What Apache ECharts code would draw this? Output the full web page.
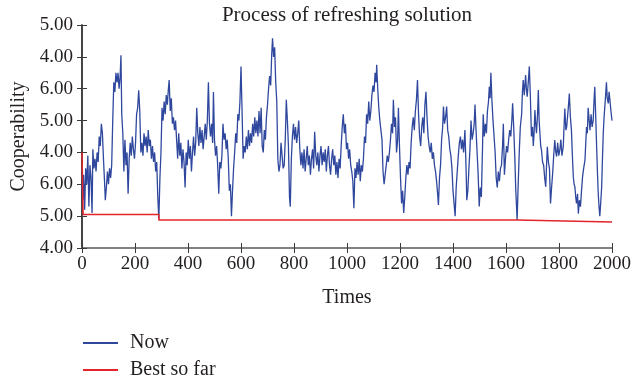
<!DOCTYPE html>
<html>
<head>
<meta charset="utf-8">
<title>Process of refreshing solution</title>
<script src="https://cdn.jsdelivr.net/npm/echarts@6/dist/echarts.min.js"></script>
<style>
  html, body { margin: 0; padding: 0; background: #fff; }
  #main { width: 632px; height: 385px; }
</style>
</head>
<body>
<div id="main"></div>
<script>
// y axis positions 0..7, labelled as printed in the figure
var yTickLabels = ['4.00', '5.00', '6.00', '4.00', '5.00', '6.00', '4.00', '5.00'];

// "Now" trace as [time, level]
var nowPoints = [
  [0,2.0],[3,1.5],[6,2.3],[10,1.2],[14,2.5],[18,2.0],[22,2.9],[26,1.3],[30,2.6],[34,2.2],
  [38,1.1],[41,3.1],[45,2.5],[49,2.8],[53,2.4],[57,3.0],[61,2.7],[65,3.5],[69,3.2],[73,3.9],
  [77,3.6],[81,2.8],[85,2.1],[88,1.5],[92,1.9],[96,2.4],[100,2.0],[104,2.5],[108,2.2],[112,2.6],
  [116,4.0],[120,5.2],[124,4.9],[128,5.5],[132,5.2],[136,5.5],[140,5.0],[144,5.4],[147,6.05],[150,4.2],
  [154,3.6],[158,2.4],[162,3.4],[166,2.6],[170,3.0],[174,1.7],[178,2.8],[182,3.3],[186,2.9],[190,3.5],
  [194,3.1],[198,2.8],[202,3.3],[206,4.2],[210,4.4],[214,4.95],[218,4.3],[222,3.0],[226,3.3],[230,2.9],
  [234,3.6],[238,3.2],[242,3.5],[246,3.0],[250,3.7],[254,3.2],[258,3.4],[262,2.8],[266,3.2],[270,2.7],
  [274,3.0],[278,2.4],[282,2.7],[286,1.6],[290,0.9],[294,2.2],[298,3.0],[302,4.4],[306,4.0],[310,4.6],
  [314,4.2],[318,4.8],[322,4.5],[326,5.0],[329,5.27],[333,4.3],[337,4.7],[341,3.9],[345,4.1],[349,3.7],
  [353,4.0],[357,3.4],[361,2.8],[365,3.6],[369,2.9],[373,3.3],[377,2.5],[381,3.1],[385,2.7],[389,1.9],
  [393,3.0],[397,2.6],[401,3.4],[405,2.8],[409,3.2],[413,2.4],[417,3.0],[421,3.5],[425,2.9],[429,3.3],
  [433,4.4],[437,3.6],[441,3.2],[445,3.8],[449,3.3],[453,3.7],[457,3.1],[461,3.5],[465,3.9],[469,3.4],
  [473,4.0],[477,5.2],[481,3.9],[485,3.5],[489,3.9],[493,3.3],[496,4.9],[500,3.4],[504,2.9],[508,3.2],
  [512,2.6],[516,1.7],[520,2.7],[524,2.5],[528,2.9],[532,3.9],[536,3.4],[540,3.6],[544,3.1],[548,3.4],
  [552,2.8],[556,1.8],[560,2.0],[564,1.0],[568,1.8],[572,2.5],[576,3.0],[580,3.6],[584,3.3],[588,4.2],
  [592,4.0],[596,4.6],[600,5.7],[604,4.3],[608,2.8],[612,3.2],[616,3.0],[620,3.5],[624,3.1],[628,3.7],
  [632,3.2],[636,3.6],[640,3.3],[644,3.9],[648,3.5],[652,4.1],[656,3.6],[660,4.0],[664,3.5],[668,4.3],
  [672,3.6],[676,4.4],[680,3.2],[684,3.0],[688,3.7],[692,3.4],[696,4.1],[700,4.5],[704,5.0],[708,5.4],
  [712,5.1],[716,6.1],[719,6.58],[723,6.0],[727,6.3],[731,5.2],[735,4.6],[739,2.8],[743,2.4],[747,2.6],
  [751,3.3],[755,2.9],[759,2.5],[763,2.6],[767,3.4],[771,4.65],[775,4.0],[779,3.2],[783,1.6],[786,1.3],
  [790,2.8],[794,3.5],[798,3.9],[802,3.4],[806,3.8],[810,3.3],[814,3.6],[818,4.0],[822,3.1],[826,2.6],
  [830,3.0],[834,2.5],[838,3.1],[842,2.4],[846,2.8],[850,3.2],[854,2.6],[858,2.9],[862,2.3],[866,2.8],
  [870,3.1],[874,2.5],[878,3.65],[882,2.9],[886,2.6],[890,3.0],[894,2.4],[898,2.9],[902,3.2],[906,2.6],
  [910,3.0],[914,2.7],[918,3.1],[922,2.4],[926,2.9],[930,3.2],[934,2.6],[938,2.3],[942,2.8],[946,3.1],
  [950,2.6],[954,2.9],[958,2.3],[962,2.7],[966,2.2],[970,2.8],[974,2.5],[978,3.2],[982,3.8],[986,4.2],
  [990,3.6],[994,3.9],[998,3.1],[1002,3.3],[1006,2.8],[1010,3.1],[1014,2.6],[1018,2.4],[1022,2.1],[1026,1.25],
  [1030,2.5],[1034,2.2],[1038,2.7],[1042,2.3],[1046,2.8],[1050,2.1],[1054,2.6],[1058,2.4],[1062,2.8],[1066,3.5],
  [1070,3.3],[1074,4.2],[1078,3.9],[1082,4.6],[1086,4.0],[1090,4.3],[1094,4.8],[1098,5.1],[1102,4.9],[1106,5.5],
  [1110,5.2],[1112,5.75],[1116,5.0],[1120,4.4],[1124,4.0],[1128,3.7],[1132,3.4],[1136,2.4],[1140,2.0],[1144,2.3],
  [1148,2.6],[1152,2.9],[1156,2.7],[1160,3.0],[1164,3.4],[1168,3.9],[1172,3.6],[1175,4.65],[1179,3.8],[1183,4.1],
  [1187,3.0],[1191,3.4],[1194,4.4],[1198,3.2],[1202,2.2],[1206,1.4],[1210,1.8],[1214,1.1],[1218,1.6],[1222,2.2],
  [1226,2.6],[1230,2.3],[1234,2.7],[1238,2.5],[1242,3.3],[1246,3.8],[1250,4.1],[1254,3.7],[1258,4.3],[1262,4.65],
  [1266,5.27],[1270,4.2],[1274,3.5],[1278,3.2],[1282,3.8],[1286,4.1],[1290,3.6],[1294,4.5],[1298,4.9],[1302,4.1],
  [1306,3.5],[1310,3.2],[1314,3.0],[1318,3.3],[1322,2.8],[1326,3.0],[1330,2.6],[1334,2.4],[1338,2.1],[1342,1.7],
  [1345,1.35],[1349,2.2],[1353,2.6],[1357,3.4],[1361,3.8],[1364,4.44],[1368,3.9],[1372,4.1],[1376,4.44],[1380,3.7],
  [1384,3.5],[1388,3.1],[1392,2.9],[1396,2.5],[1400,1.8],[1404,1.4],[1408,1.0],[1412,1.9],[1416,2.4],[1420,2.9],
  [1424,3.3],[1428,3.5],[1432,3.1],[1436,3.4],[1440,3.0],[1445,3.7],[1449,2.6],[1452,1.5],[1456,1.8],[1460,2.5],
  [1464,3.1],[1468,4.0],[1472,3.4],[1476,3.6],[1480,3.9],[1483,4.5],[1487,3.7],[1491,3.0],[1495,2.3],[1499,1.3],
  [1503,1.9],[1507,1.6],[1511,3.0],[1514,4.2],[1518,3.5],[1522,3.9],[1526,3.6],[1530,4.3],[1534,4.6],[1537,5.06],
  [1540,4.7],[1543,5.5],[1547,4.6],[1551,4.0],[1555,3.5],[1559,3.0],[1563,2.2],[1567,1.9],[1571,2.4],[1575,2.1],
  [1579,2.5],[1583,2.6],[1587,3.2],[1590,3.9],[1594,2.3],[1598,2.8],[1602,3.2],[1606,3.0],[1610,3.4],[1614,3.7],
  [1618,3.5],[1622,4.0],[1625,4.54],[1629,3.8],[1633,2.9],[1637,1.8],[1642,0.88],[1646,2.0],[1650,3.0],[1654,3.8],
  [1659,4.2],[1662,4.9],[1665,5.27],[1669,4.8],[1674,5.43],[1677,5.0],[1680,4.75],[1684,5.2],[1688,5.7],[1692,4.75],
  [1696,3.5],[1700,3.8],[1703,3.2],[1706,3.6],[1709,4.33],[1712,3.9],[1715,3.6],[1719,4.2],[1722,4.96],[1725,4.0],
  [1728,3.6],[1731,3.2],[1734,3.07],[1738,2.7],[1742,2.6],[1746,2.2],[1750,1.92],[1753,2.6],[1756,3.18],[1760,2.7],
  [1764,2.5],[1768,1.4],[1772,1.9],[1776,2.34],[1780,2.9],[1784,3.39],[1788,3.0],[1791,2.87],[1795,3.3],[1799,2.9],
  [1803,3.07],[1807,3.4],[1811,2.9],[1816,3.18],[1819,3.8],[1822,4.38],[1826,3.7],[1829,3.8],[1833,4.2],[1836,4.5],
  [1839,4.85],[1843,4.1],[1847,3.7],[1850,3.0],[1854,2.24],[1857,2.0],[1860,1.92],[1863,1.6],[1866,1.4],[1870,1.7],
  [1873,1.08],[1877,1.5],[1881,1.3],[1885,1.8],[1889,2.24],[1893,2.5],[1898,2.76],[1901,3.3],[1904,3.8],[1907,3.6],
  [1910,4.4],[1914,4.0],[1917,3.7],[1921,4.2],[1925,3.8],[1929,4.0],[1932,4.6],[1935,5.06],[1939,4.0],[1942,3.18],
  [1945,2.4],[1948,1.72],[1951,1.3],[1954,1.0],[1958,1.5],[1961,1.92],[1964,2.8],[1967,3.6],[1970,4.1],[1973,4.44],
  [1976,4.8],[1979,5.2],[1982,4.7],[1986,4.54],[1989,4.9],[1992,4.65],[1996,4.3],[2000,4.0]
];

// "Best so far": value holds from each time until the next one
var bestTimes = [0, 4, 290, 1642];
var bestValues = [3.0, 1.05, 0.88, 0.82];
var lastTime = 2000;

// turn the step values into corner points for a plain line
var bestPoints = [];
bestTimes.forEach(function (t, i) {
  if (i > 0) bestPoints.push([t, bestValues[i - 1]]);
  bestPoints.push([t, bestValues[i]]);
});
bestPoints.push([lastTime, bestValues[bestValues.length - 1]]);

var serif = 'Liberation Serif';
var ink = '#231f20';
var chart = echarts.init(document.getElementById('main'));

var axisLine = { show: true, lineStyle: { color: '#3a3a3a', width: 1.5 } };
var tick = { show: true, inside: true, length: 5, lineStyle: { color: '#3a3a3a', width: 1 } };

var option = {
  animation: false,
  title: {
    text: 'Process of refreshing solution',
    left: 342,
    textAlign: 'center',
    top: 0,
    textStyle: { fontFamily: serif, fontSize: 21, fontWeight: 'normal', color: ink }
  },
  legend: {
    orient: 'vertical',
    left: 83,
    top: 333,
    padding: 0,
    itemWidth: 35,
    itemHeight: 2,
    itemGap: 7,
    icon: 'rect',
    textStyle: { fontFamily: serif, fontSize: 20, color: ink, padding: [0, 0, 0, 7] },
    data: ['Now', 'Best so far']
  },
  grid: { left: 82, right: 20, top: 25, bottom: 137, outerBoundsMode: 'none' },
  xAxis: [{
    type: 'value',
    min: 0, max: 2000, interval: 200,
    name: 'Times',
    nameLocation: 'middle',
    nameGap: 40,
    nameTextStyle: { fontFamily: serif, fontSize: 20, color: ink },
    axisLine: axisLine,
    axisTick: tick,
    splitLine: { show: false },
    axisLabel: {
      fontFamily: serif, fontSize: 19, color: ink, margin: 7,
      formatter: function (v) { return String(v); }
    }
  }, {
    type: 'value', position: 'top',
    min: 0, max: 2000, interval: 200,
    axisLine: { show: true, lineStyle: { color: '#8a8a8a', width: 1.5 } },
    axisTick: tick,
    axisLabel: { show: false },
    splitLine: { show: false }
  }],
  yAxis: [{
    type: 'value',
    min: 0, max: 7, interval: 1,
    name: 'Cooperability',
    nameLocation: 'middle',
    nameGap: 53,
    nameTextStyle: { fontFamily: serif, fontSize: 20, color: ink },
    axisLine: axisLine,
    axisTick: tick,
    splitLine: { show: false },
    axisLabel: {
      fontFamily: serif, fontSize: 19, color: ink, margin: 9,
      formatter: function (v) { return yTickLabels[Math.round(v)]; }
    }
  }, {
    type: 'value', position: 'right',
    min: 0, max: 7, interval: 1,
    axisLine: axisLine,
    axisTick: tick,
    axisLabel: { show: false },
    splitLine: { show: false }
  }],
  series: [{
    name: 'Now',
    type: 'line',
    data: nowPoints,
    symbol: 'none',
    color: '#2f489e',
    lineStyle: { width: 1.3, color: '#2f489e' },
    z: 2
  }, {
    name: 'Best so far',
    type: 'line',
    data: bestPoints,
    symbol: 'none',
    color: '#e3242b',
    lineStyle: { width: 1.5, color: '#e3242b' },
    z: 3
  }]
};

chart.setOption(option);
window.addEventListener('resize', function () { chart.resize(); });
</script>
</body>
</html>
